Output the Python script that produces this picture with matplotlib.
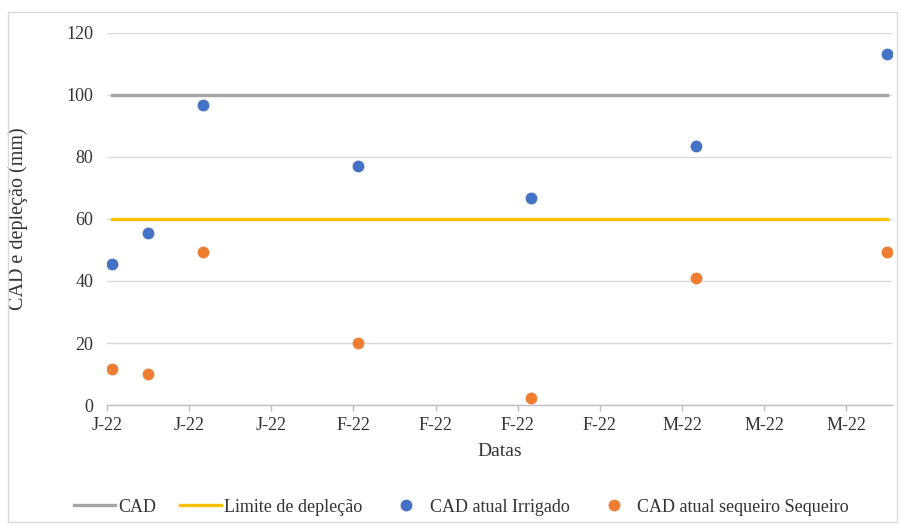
import numpy as np
import pandas as pd
from matplotlib import pyplot as plt
from matplotlib.patches import Rectangle

# measurement dates (2022)
datas = pd.to_datetime(["2022-01-05", "2022-01-09", "2022-01-15", "2022-02-01",
                        "2022-02-20", "2022-03-10", "2022-03-31"])
cad = [100, 100, 100, 100, 100, 100, 100]
limite = [60, 60, 60, 60, 60, 60, 60]
irrigado = [45.4, 55.6, 96.8, 77.0, 66.8, 83.7, 113.2]
sequeiro = [11.6, 10.0, 49.4, 20.1, 2.3, 41.1, 49.3]

tick_datas = pd.date_range("2022-01-05", periods=10, freq="9D")
tick_labels = ["J-22", "J-22", "J-22", "F-22", "F-22", "F-22", "F-22", "M-22", "M-22", "M-22"]

plt.rcParams['font.family'] = ['Liberation Serif', 'DejaVu Serif']
txt = '#333333'

fig = plt.figure(figsize=(9.01, 5.26), dpi=100)
ax = fig.add_axes([107 / 901, 1 - 405 / 526, 785 / 901, (405 - 33) / 526])

# excel date axis puts each point in the middle of its day
x = datas + pd.Timedelta(hours=12)

ax.plot(x, cad, color='#a5a5a5', lw=2.4, label='CAD', zorder=3)
ax.plot(x, limite, color='#ffc000', lw=2.4, label='Limite de depleção', zorder=3)
ax.plot(x, irrigado, 'o', color='#4472c4', ms=7.5, label='CAD atual Irrigado', zorder=4)
ax.plot(x, sequeiro, 'o', color='#ed7d31', ms=7.5, label='CAD atual sequeiro Sequeiro', zorder=4)

ax.set_xlim(pd.Timestamp("2022-01-05"), pd.Timestamp("2022-04-01"))
ax.set_ylim(0, 120)
ax.set_yticks(np.arange(0, 121, 20))
ax.set_xticks(tick_datas)
ax.set_xticklabels(tick_labels)

ax.grid(axis='y', color='#d9d9d9', lw=1)
ax.set_axisbelow(True)
for s in ['top', 'right', 'left']:
    ax.spines[s].set_visible(False)
ax.spines['bottom'].set_color('#bfbfbf')
ax.spines['bottom'].set_linewidth(1)
ax.tick_params(axis='x', colors='#bfbfbf', length=4, width=1, labelcolor=txt,
               labelsize=13, pad=5)
ax.tick_params(axis='y', length=0, labelcolor=txt, labelsize=13, pad=10)

ax.set_xlabel('Datas', fontsize=14, color=txt)
ax.set_ylabel('CAD e depleção (mm)', fontsize=14.5, color=txt)
ax.xaxis.set_label_coords(0.5, (405 - 443) / 372)
ax.yaxis.set_label_coords((28 - 107) / 785, 0.5)

fig.legend(loc='center', bbox_to_anchor=(0.512, 1 - 507 / 526), ncol=4, frameon=False,
           fontsize=13, handlelength=2.3, handletextpad=0.15, columnspacing=1.3,
           labelcolor=txt)

fig.patches.append(Rectangle((8 / 901, 4 / 526), 889 / 901, 510 / 526,
                             transform=fig.transFigure, fill=False,
                             edgecolor='#d9d9d9', lw=1))

fig.savefig('out.png', dpi=100)
